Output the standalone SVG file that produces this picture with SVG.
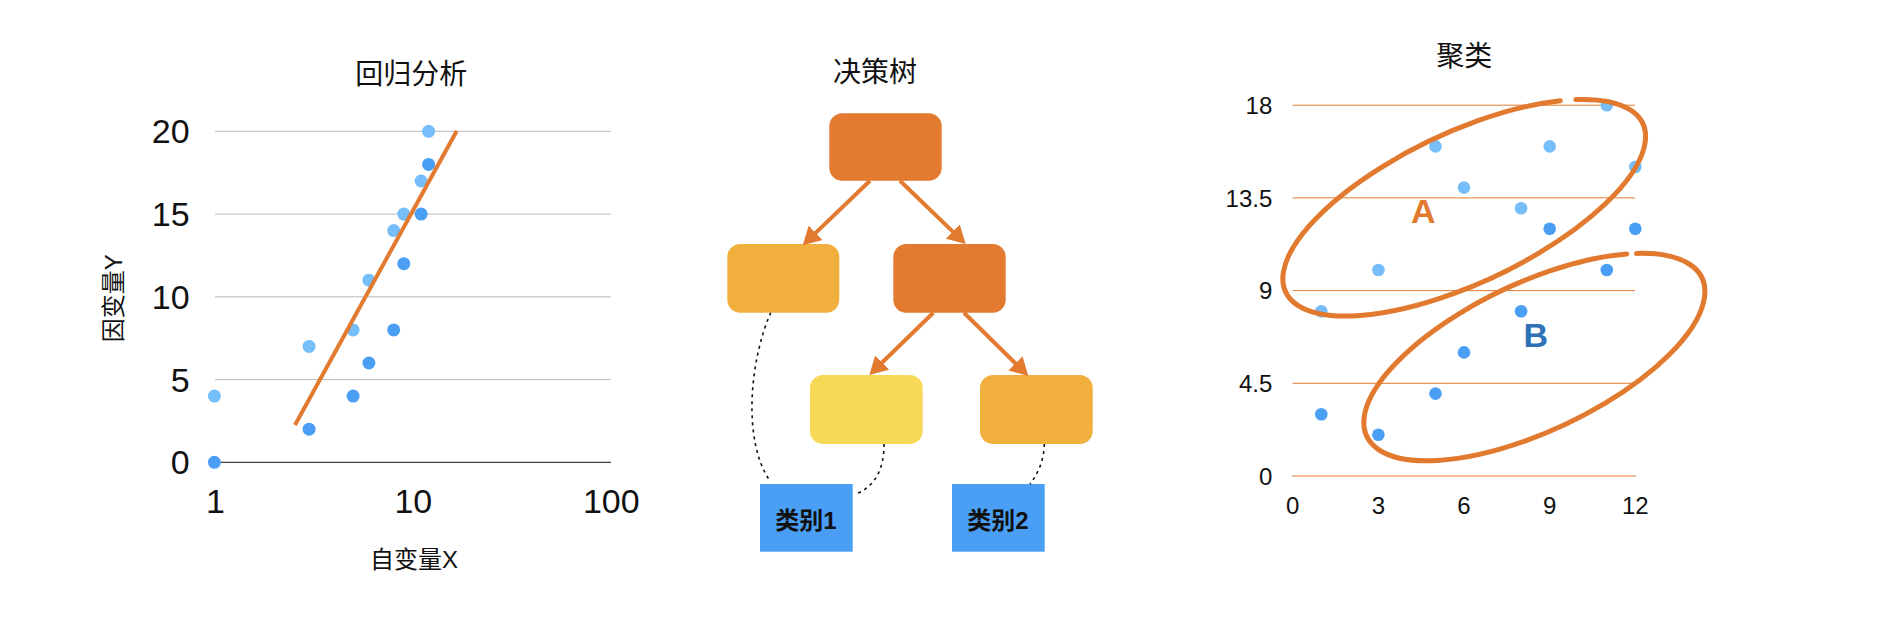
<svg xmlns="http://www.w3.org/2000/svg" width="1892" height="624" viewBox="0 0 1892 624">
<style>
.title{font-family:"Noto Sans CJK SC","Liberation Sans",sans-serif;font-size:28px;fill:#111;text-anchor:middle}
.axt{font-family:"Liberation Sans","Noto Sans CJK SC",sans-serif;font-size:24px;fill:#111;text-anchor:middle}
.tl{font-family:"Liberation Sans",Arial,sans-serif;font-size:34px;fill:#111}
.tr{font-family:"Liberation Sans",Arial,sans-serif;font-size:24px;fill:#111}
.lt{fill:#76befa}
.dk{fill:#4a9ff5}
.grid{stroke:#b9b9b9;stroke-width:1}
.ogrid{stroke:#e27a2f;stroke-width:1}
.box{rx:13px;ry:13px}
.arrow{stroke:#e27a2f;stroke-width:4;fill:none;marker-end:url(#ah)}
.dash{stroke:#111;stroke-width:1.6;fill:none;stroke-dasharray:3 4}
.cat{fill:#4a9ff5}
.catt{font-family:"Liberation Sans","Noto Sans CJK SC",sans-serif;font-size:24px;font-weight:bold;fill:#111;text-anchor:middle}
.ell{stroke:#e17a2f;stroke-width:5;fill:none;stroke-linecap:round}
</style>
<defs>
<marker id="ah" viewBox="0 0 18 20" refX="8" refY="10" markerWidth="18" markerHeight="20" markerUnits="userSpaceOnUse" orient="auto">
<path d="M0,0 L18,10 L0,20 z" fill="#e27a2f"/>
</marker>
</defs>
<rect width="1892" height="624" fill="#fff"/>

<g id="regression">
<text class="title" x="411.3" y="83.7">回归分析</text>
<line class="grid" x1="215" y1="131.3" x2="610.7" y2="131.3"/>
<line class="grid" x1="215" y1="214.1" x2="610.7" y2="214.1"/>
<line class="grid" x1="215" y1="296.8" x2="610.7" y2="296.8"/>
<line class="grid" x1="215" y1="379.6" x2="610.7" y2="379.6"/>
<line x1="215" y1="462.3" x2="611" y2="462.3" stroke="#111" stroke-width="1"/>
<g text-anchor="end">
<text class="tl" x="189.7" y="143.3">20</text>
<text class="tl" x="189.7" y="226.1">15</text>
<text class="tl" x="189.7" y="308.8">10</text>
<text class="tl" x="189.7" y="391.6">5</text>
<text class="tl" x="189.7" y="474.3">0</text>
</g>
<g text-anchor="middle">
<text class="tl" x="215.5" y="512.5">1</text>
<text class="tl" x="413.3" y="512.5">10</text>
<text class="tl" x="611.3" y="512.5">100</text>
</g>
<text class="axt" transform="translate(122.3,298.3) rotate(-90)">因变量Y</text>
<text class="axt" x="414" y="567.7">自变量X</text>
<g class="lt">
<circle cx="214.4" cy="396.1" r="6.5"/>
<circle cx="309.1" cy="346.4" r="6.5"/>
<circle cx="353.1" cy="329.9" r="6.5"/>
<circle cx="368.9" cy="280.2" r="6.5"/>
<circle cx="393.7" cy="230.6" r="6.5"/>
<circle cx="403.8" cy="214.1" r="6.5"/>
<circle cx="421.1" cy="181" r="6.5"/>
<circle cx="428.6" cy="131.3" r="6.5"/>
</g>
<g class="dk">
<circle cx="214.4" cy="462.3" r="6.5"/>
<circle cx="309.1" cy="429.2" r="6.5"/>
<circle cx="353.1" cy="396.1" r="6.5"/>
<circle cx="368.9" cy="363" r="6.5"/>
<circle cx="393.7" cy="329.9" r="6.5"/>
<circle cx="403.8" cy="263.7" r="6.5"/>
<circle cx="421.1" cy="214.1" r="6.5"/>
<circle cx="428.6" cy="164.4" r="6.5"/>
</g>
<line x1="295" y1="425" x2="456.7" y2="131" stroke="#e27a2f" stroke-width="4"/>
</g>

<g id="tree">
<text class="title" x="875" y="82">决策树</text>
<g id="node-root"><rect class="box" x="829.3" y="113.3" width="112.4" height="67.4" fill="#e27a2f"/></g>
<g id="node-left"><rect class="box" x="727.3" y="244" width="112" height="68.7" fill="#f1b03e"/></g>
<g id="node-right"><rect class="box" x="893.3" y="244" width="112.4" height="68.7" fill="#e27a2f"/></g>
<g id="node-bl"><rect class="box" x="810" y="375" width="112.7" height="69" fill="#f8d957"/></g>
<g id="node-br"><rect class="box" x="980" y="375" width="112.7" height="69" fill="#f1b03e"/></g>
<g id="node-cat1"><rect class="cat" x="760" y="484" width="92.7" height="67.7"/><text class="catt" x="806" y="528.5">类别1</text></g>
<g id="node-cat2"><rect class="cat" x="952" y="484" width="92.7" height="67.7"/><text class="catt" x="998" y="528.5">类别2</text></g>
<g id="connectors">
<path class="arrow" d="M870,180.7 L809.9,238.4"/>
<path class="arrow" d="M900,180.7 L958.5,237.1"/>
<path class="arrow" d="M933.3,312.7 L876.5,368"/>
<path class="arrow" d="M964,312.7 L1021.2,369"/>
<path class="dash" d="M770.7,312.7 C750,360 742,440 770,481"/>
<path class="dash" d="M884,444 C884,468 876,486 856,494"/>
<path class="dash" d="M1044.3,444 C1044,460 1038,474 1030,484"/>
</g>
</g>

<g id="cluster">
<text class="title" x="1464.2" y="66.3">聚类</text>
<line class="ogrid" x1="1292.7" y1="105.2" x2="1635" y2="105.2"/>
<line class="ogrid" x1="1292.7" y1="197.9" x2="1635" y2="197.9"/>
<line class="ogrid" x1="1292.7" y1="290.6" x2="1635" y2="290.6"/>
<line class="ogrid" x1="1292.7" y1="383.3" x2="1635" y2="383.3"/>
<line class="ogrid" x1="1292" y1="476" x2="1636" y2="476"/>
<g text-anchor="end">
<text class="tr" x="1272.3" y="113.9">18</text>
<text class="tr" x="1272.3" y="206.6">13.5</text>
<text class="tr" x="1272.3" y="299.3">9</text>
<text class="tr" x="1272.3" y="392">4.5</text>
<text class="tr" x="1272.3" y="484.7">0</text>
</g>
<g text-anchor="middle">
<text class="tr" x="1292.7" y="514">0</text>
<text class="tr" x="1378.4" y="514">3</text>
<text class="tr" x="1464" y="514">6</text>
<text class="tr" x="1549.7" y="514">9</text>
<text class="tr" x="1635.3" y="514">12</text>
</g>
<g class="lt">
<circle cx="1321.3" cy="311.2" r="6.3"/>
<circle cx="1378.4" cy="270" r="6.3"/>
<circle cx="1435.5" cy="146.4" r="6.3"/>
<circle cx="1464" cy="187.6" r="6.3"/>
<circle cx="1521.1" cy="208.2" r="6.3"/>
<circle cx="1549.7" cy="146.4" r="6.3"/>
<circle cx="1606.8" cy="105.2" r="6.3"/>
<circle cx="1635.3" cy="167" r="6.3"/>
</g>
<g class="dk">
<circle cx="1321.3" cy="414.2" r="6.3"/>
<circle cx="1378.4" cy="434.8" r="6.3"/>
<circle cx="1435.5" cy="393.6" r="6.3"/>
<circle cx="1464" cy="352.4" r="6.3"/>
<circle cx="1521.1" cy="311.2" r="6.3"/>
<circle cx="1549.7" cy="228.8" r="6.3"/>
<circle cx="1606.8" cy="270" r="6.3"/>
<circle cx="1635.3" cy="228.8" r="6.3"/>
</g>
<path class="ell" transform="translate(1464.7,207.7) rotate(-25.3)" d="M146.7,-50.3 A197.4,75.2 0 1 1 132.1,-55.9"/>
<path class="ell" transform="translate(1535.5,357) rotate(-25.3)" d="M135.5,-50.5 A185.3,74.1 0 1 1 126.4,-54.2"/>
<text x="1423.3" y="222.7" font-family="Liberation Sans,Arial,sans-serif" font-size="34" font-weight="bold" fill="#e17a2f" text-anchor="middle">A</text>
<text x="1535.7" y="347.3" font-family="Liberation Sans,Arial,sans-serif" font-size="34" font-weight="bold" fill="#2f71b6" text-anchor="middle">B</text>
</g>
</svg>
